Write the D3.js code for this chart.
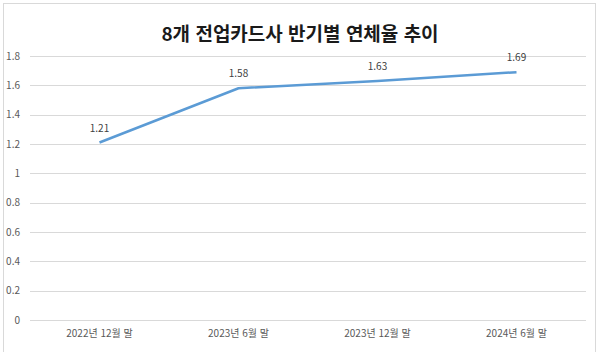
<!DOCTYPE html>
<html lang="ko">
<head>
<meta charset="utf-8">
<script src="https://d3js.org/d3.v7.min.js"></script>
<style>
  body { margin: 0; background: #fff; }
  text { font-family: "Noto Sans CJK KR", "Noto Sans", sans-serif; }
</style>
</head>
<body>
<script>
// data
const categories = ["2022년 12월 말", "2023년 6월 말", "2023년 12월 말", "2024년 6월 말"];
const rates = [1.21, 1.58, 1.63, 1.69];
const yTicks = [0, 0.2, 0.4, 0.6, 0.8, 1, 1.2, 1.4, 1.6, 1.8];
const title = "8개 전업카드사 반기별 연체율 추이";

const W = 600, H = 352;
const svg = d3.select("body").append("svg").attr("width", W).attr("height", H);

// chart frame
svg.append("rect").attr("x", 3.5).attr("y", 3.5).attr("width", 592).attr("height", H)
  .attr("fill", "#fff").attr("stroke", "#d9d9d9");

svg.append("text").attr("x", 300).attr("y", 41).attr("text-anchor", "middle")
  .attr("font-size", 19).attr("font-weight", "bold").attr("fill", "#1a1a1a").text(title);

const x = d3.scaleBand().domain(categories).range([30, 586]);
const y = d3.scaleLinear().domain([0, 1.8]).range([320, 56]);

// grid
svg.append("g").selectAll("line").data(yTicks).join("line")
  .attr("x1", 30).attr("x2", 586)
  .attr("y1", d => Math.round(y(d)) + 0.5).attr("y2", d => Math.round(y(d)) + 0.5)
  .attr("stroke", "#d9d9d9").attr("stroke-width", 1);

// y axis labels
const yAxis = svg.append("g").attr("transform", "translate(30,0)")
  .call(d3.axisLeft(y).tickValues(yTicks).tickSize(0).tickPadding(10).tickFormat(d => String(d)));
yAxis.select(".domain").remove();
yAxis.selectAll("text").attr("font-size", 10).attr("fill", "#595959")
  .style("font-family", "\"Noto Sans CJK KR\", sans-serif");

// x axis labels
const xAxis = svg.append("g").attr("transform", "translate(0,320)")
  .call(d3.axisBottom(x).tickSize(0).tickPadding(10));
xAxis.select(".domain").remove();
xAxis.selectAll("text").attr("font-size", 10).attr("fill", "#595959")
  .style("font-family", "\"Noto Sans CJK KR\", sans-serif");

const cx = d => x(d) + x.bandwidth() / 2;

svg.append("path").datum(rates)
  .attr("fill", "none").attr("stroke", "#5b9bd5").attr("stroke-width", 2.5)
  .attr("stroke-linejoin", "round")
  .attr("d", d3.line().x((d, i) => cx(categories[i])).y(d => y(d)));

svg.append("g").selectAll("text").data(rates).join("text")
  .attr("x", (d, i) => cx(categories[i])).attr("y", d => y(d) - 11)
  .attr("text-anchor", "middle").attr("font-size", 10).attr("fill", "#404040")
  .text(d => d.toFixed(2));
</script>
</body>
</html>
